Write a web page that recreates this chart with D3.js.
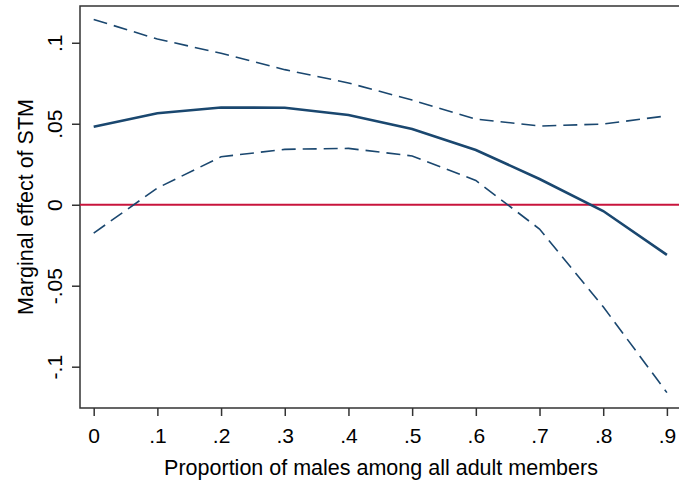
<!DOCTYPE html>
<meta charset="utf-8">
<style>
body { margin: 0; background: #fff; }
text { font-family: "Liberation Sans", Arial, sans-serif; fill: #000; }
.axis line { stroke: #333; stroke-width: 1.5; }
</style>
<body>
<script src="https://d3js.org/d3.v7.min.js"></script>
<script>

// values
var props = [0, .1, .2, .3, .4, .5, .6, .7, .8, .9];
var effect = [0.0481, 0.0565, 0.0600, 0.0599, 0.0554, 0.0467, 0.0338, 0.0159, -0.0039, -0.0310];
var upper = [0.1144, 0.1023, 0.0935, 0.0834, 0.0752, 0.0646, 0.0529, 0.0486, 0.0498, 0.0549];
var lower = [-0.0175, 0.0103, 0.0296, 0.0342, 0.0348, 0.0301, 0.0150, -0.0150, -0.0630, -0.1160];
var xTicks = [0, .1, .2, .3, .4, .5, .6, .7, .8, .9];
var xTickLabels = ["0", ".1", ".2", ".3", ".4", ".5", ".6", ".7", ".8", ".9"];
var yTicks = [-.1, -.05, 0, .05, .1];
var yTickLabels = ["-.1", "-.05", "0", ".05", ".1"];

var W = 679, H = 487;
var pLeft = 80, pTop = 6, pRight = 679, pBottom = 408;

var svg = d3.select("body").append("svg")
    .attr("width", W)
    .attr("height", H);

var x = d3.scaleLinear()
    .domain([-0.0215, 0.919])
    .range([pLeft, pRight]);
var y = d3.scaleLinear()
    .domain([-0.1255, 0.1227])
    .range([pBottom, pTop]);

// plot frame (left, top, bottom)
svg.append("path")
    .attr("d", "M" + pRight + "," + pTop + "H" + pLeft + "V" + pBottom + "H" + pRight)
    .attr("fill", "none")
    .attr("stroke", "#333")
    .attr("stroke-width", 1.5);

// zero reference line
svg.append("line")
    .attr("x1", pLeft).attr("x2", pRight)
    .attr("y1", y(0)).attr("y2", y(0))
    .attr("stroke", "#c8143c")
    .attr("stroke-width", 2.2);

var line = function(vals) {
  return d3.line()
      .x(function(d, i) { return x(props[i]); })
      .y(function(d) { return y(d); })(vals);
};

// confidence bounds
[upper, lower].forEach(function(s) {
  svg.append("path")
      .attr("d", line(s))
      .attr("fill", "none")
      .attr("stroke", "#1a476f")
      .attr("stroke-width", 1.6)
      .attr("stroke-dasharray", "14,7");
});

// marginal effect
svg.append("path")
    .attr("d", line(effect))
    .attr("fill", "none")
    .attr("stroke", "#1a476f")
    .attr("stroke-width", 2.6);

// x axis
var gx = svg.append("g")
    .attr("class", "axis")
    .attr("transform", "translate(0," + pBottom + ")")
    .call(d3.axisBottom(x).tickValues(xTicks)
        .tickFormat(function(d, i) { return xTickLabels[i]; })
        .tickSize(8));
gx.select(".domain").remove();
gx.selectAll(".tick text")
    .attr("y", 35).attr("dy", 0)
    .style("font-size", "21px")
    .style("font-family", "Liberation Sans, Arial, sans-serif");

// y axis, labels vertical like Stata
var gy = svg.append("g")
    .attr("class", "axis")
    .attr("transform", "translate(" + pLeft + ",0)")
    .call(d3.axisLeft(y).tickValues(yTicks)
        .tickFormat(function(d, i) { return yTickLabels[i]; })
        .tickSize(8));
gy.select(".domain").remove();
gy.selectAll(".tick text")
    .attr("transform", "translate(-18,0) rotate(-90)")
    .attr("x", 0).attr("y", 0)
    .attr("dy", 0)
    .attr("text-anchor", "middle")
    .style("font-size", "21px")
    .style("font-family", "Liberation Sans, Arial, sans-serif");

// axis titles
svg.append("text")
    .attr("x", 381)
    .attr("y", 475)
    .attr("text-anchor", "middle")
    .style("font-size", "21.5px")
    .text("Proportion of males among all adult members");

svg.append("text")
    .attr("transform", "translate(33,207) rotate(-90)")
    .attr("text-anchor", "middle")
    .style("font-size", "21.5px")
    .text("Marginal effect of STM");

</script>
</body>
